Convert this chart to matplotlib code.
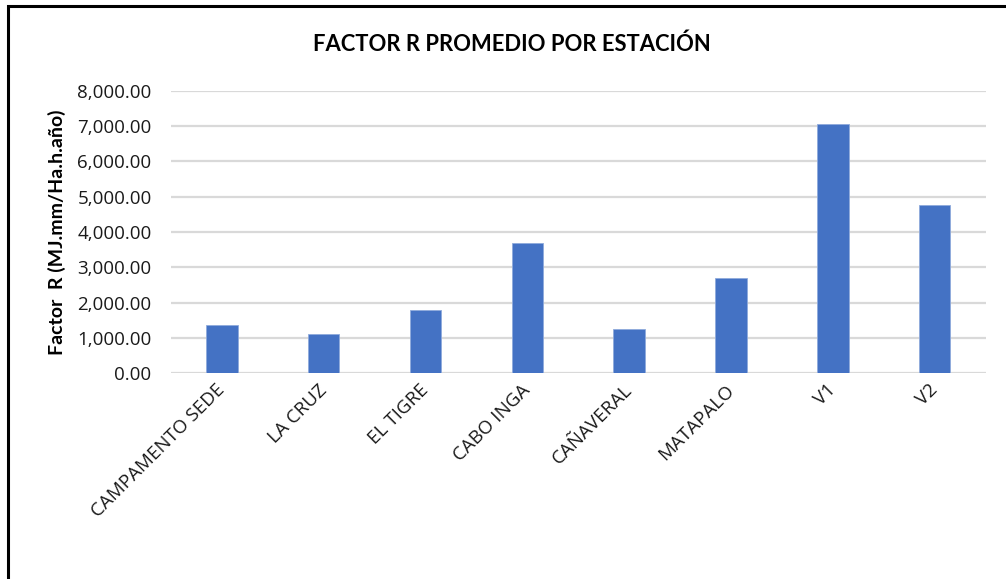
import matplotlib
matplotlib.use("Agg")
import matplotlib.pyplot as plt
from matplotlib.patches import Rectangle
from matplotlib.ticker import FuncFormatter, MultipleLocator
from matplotlib.transforms import ScaledTranslation

# Average R factor per station
stations = ["CAMPAMENTO SEDE", "LA CRUZ", "EL TIGRE", "CABO INGA",
            "CAÑAVERAL", "MATAPALO", "V1", "V2"]
factor_r = [1357, 1100, 1786, 3680, 1243, 2683, 7067, 4752]

title = "FACTOR R PROMEDIO POR ESTACIÓN"
ylabel = "Factor  R (MJ.mm/Ha.h.año)"

W, H = 1006, 579
fig = plt.figure(figsize=(W / 100, H / 100), dpi=100)
fig.patch.set_facecolor("white")

# axes box in pixel coordinates
left, right, top, bottom = 171, 985.5, 91, 373
ax = fig.add_axes([left / W, 1 - bottom / H, (right - left) / W, (bottom - top) / H])

x = range(len(stations))
ax.bar(x, factor_r, width=0.31, color="#4472C4", edgecolor="#8FAADC",
       linewidth=0.6, zorder=3)

ax.set_xlim(-0.5, len(stations) - 0.5)
ax.set_ylim(0, 8000)
ax.yaxis.set_major_locator(MultipleLocator(1000))
ax.yaxis.set_major_formatter(FuncFormatter(lambda v, p: f"{v:,.2f}"))
ax.grid(axis="y", color="#D9D9D9", linewidth=1.6, zorder=0)
ax.set_axisbelow(True)
for s in ax.spines.values():
    s.set_visible(False)

ax.tick_params(axis="both", length=0)
ax.tick_params(axis="y", pad=14, labelsize=13.5, labelcolor="#1a1a1a")
for lab in ax.get_yticklabels():
    lab.set_fontfamily("Open Sans")

ax.set_xticks(list(x))
ax.set_xticklabels(stations, rotation=45, ha="right", va="top",
                   rotation_mode="anchor", fontsize=13.5, fontfamily="Open Sans",
                   color="#1a1a1a")
ax.tick_params(axis="x", pad=8)
shift = ScaledTranslation(-6 / 100, 3 / 100, fig.dpi_scale_trans)
for lab in ax.get_xticklabels():
    lab.set_transform(lab.get_transform() + shift)

ax.set_ylabel(ylabel, fontsize=14, fontweight="bold", fontfamily="Lato")
ax.yaxis.set_label_coords((66 - left) / (right - left), 0.5)

fig.text(512 / W, 1 - 44 / H, title, ha="center", va="center",
         fontsize=15.8, fontweight="bold", fontfamily="Lato")

# outer frame of the chart
fig.add_artist(Rectangle((7.5 / W, -0.1), 1.2, 1 - 6 / H + 0.1,
                         transform=fig.transFigure, fill=False,
                         edgecolor="black", linewidth=2.2))

fig.savefig("out.png", dpi=100, facecolor="white")
